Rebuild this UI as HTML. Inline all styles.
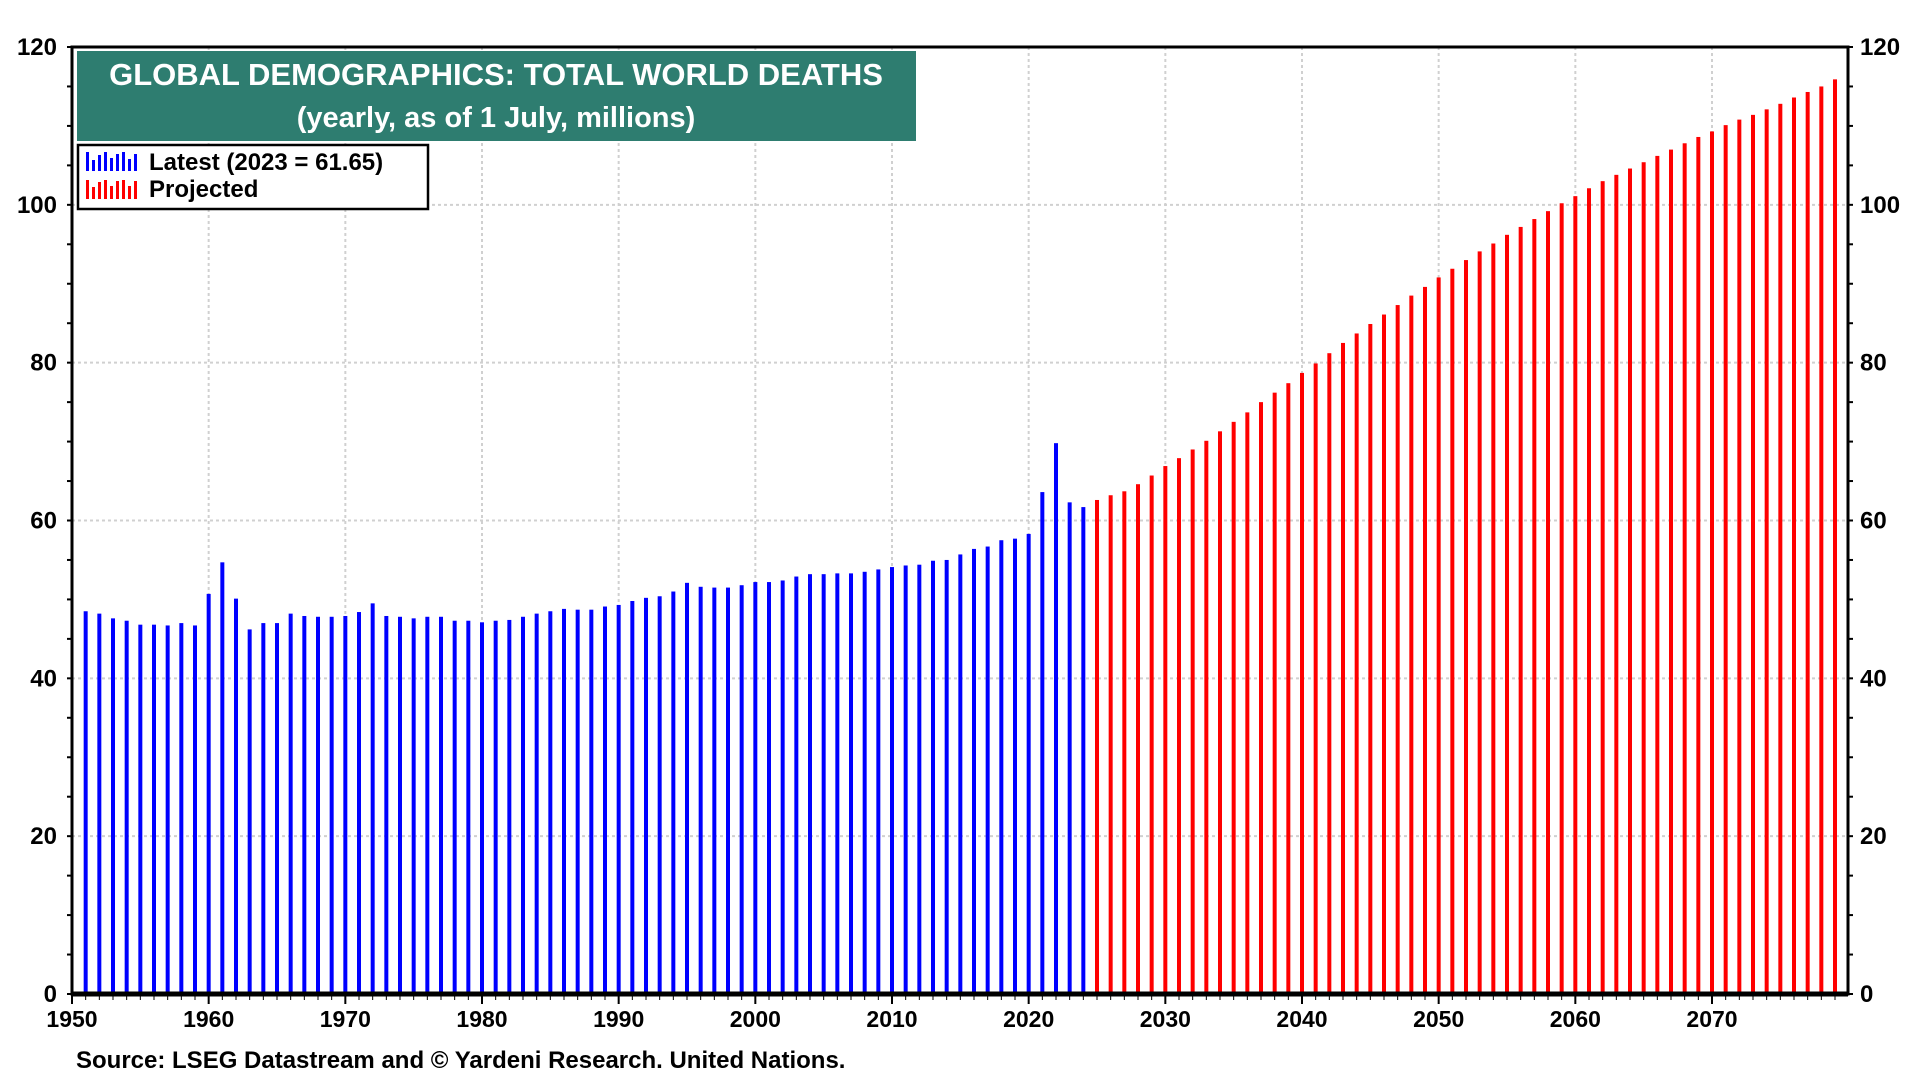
<!DOCTYPE html>
<html><head><meta charset="utf-8"><style>
html,body{margin:0;padding:0;background:#fff;}
svg{display:block;font-family:"Liberation Sans",Arial,sans-serif;font-weight:bold;}
</style></head><body>
<svg id="chart" width="1920" height="1080" viewBox="0 0 1920 1080"></svg>
<script>
const histYears=[];for(let y=1951;y<=2024;y++)histYears.push(y);
const histValues=[48.5,48.2,47.6,47.3,46.8,46.8,46.7,47.0,46.7,50.7,54.7,50.1,46.2,47.0,47.0,48.2,47.9,47.8,47.8,47.9,48.4,49.5,47.9,47.8,47.6,47.8,47.8,47.3,47.3,47.1,47.3,47.4,47.8,48.2,48.5,48.8,48.7,48.7,49.1,49.3,49.8,50.2,50.4,51.0,52.1,51.6,51.5,51.5,51.8,52.2,52.2,52.4,52.9,53.2,53.2,53.3,53.3,53.5,53.8,54.1,54.3,54.4,54.9,55.0,55.7,56.4,56.7,57.5,57.7,58.3,63.6,69.8,62.3,61.7];
const projYears=[];for(let y=2025;y<=2079;y++)projYears.push(y);
const projValues=[62.6,63.2,63.7,64.6,65.7,66.9,67.9,69.0,70.1,71.3,72.5,73.7,75.0,76.2,77.4,78.7,79.9,81.2,82.5,83.7,84.9,86.1,87.3,88.5,89.6,90.8,91.9,93.0,94.1,95.1,96.2,97.2,98.2,99.2,100.2,101.1,102.1,103.0,103.8,104.6,105.4,106.2,107.0,107.8,108.6,109.3,110.1,110.8,111.4,112.1,112.8,113.6,114.3,115.0,115.9];
const yTicks=[0,20,40,60,80,100,120];
const xTicks=[1950,1960,1970,1980,1990,2000,2010,2020,2030,2040,2050,2060,2070];

const L=72,R=1848,T=47,B=994;
const xS=y=>L+(y-1950)*(1712-72)/120;
const yS=v=>B-v*(B-T)/120;
const svg=document.getElementById('chart');
const NS='http://www.w3.org/2000/svg';
function mk(tag,attrs,parent){const e=document.createElementNS(NS,tag);for(const k in attrs)e.setAttribute(k,attrs[k]);(parent||svg).appendChild(e);return e;}

yTicks.forEach(v=>{if(v>0&&v<120){const g=mk('line',{x1:L,x2:R,y1:yS(v),y2:yS(v),stroke:'#d0d0d0','stroke-width':2,'stroke-dasharray':'3,3'});

}});
xTicks.forEach(t=>{if(t>1950){const g=mk('line',{x1:xS(t),x2:xS(t),y1:T,y2:B,stroke:'#d0d0d0','stroke-width':2,'stroke-dasharray':'3,3'});

}});

histYears.forEach((yr,i)=>{const b=mk('rect',{x:xS(yr)-2,y:yS(histValues[i]),width:4,height:B-yS(histValues[i]),fill:'#0000ff'});

});
projYears.forEach((yr,i)=>{const b=mk('rect',{x:xS(yr)-2,y:yS(projValues[i]),width:4,height:B-yS(projValues[i]),fill:'#ff0000'});

});

const fr=mk('rect',{x:L,y:T,width:R-L,height:B-T,fill:'none',stroke:'#000','stroke-width':3});


const ba=mk('line',{x1:L,x2:R,y1:B,y2:B,stroke:'#000','stroke-width':5});



for(let v=0;v<=120;v+=5){
 mk('line',{x1:L-5,x2:L,y1:yS(v),y2:yS(v),stroke:'#000','stroke-width':2});
 mk('line',{x1:R,x2:R+5,y1:yS(v),y2:yS(v),stroke:'#000','stroke-width':2});
}
yTicks.forEach(v=>{
 const a=mk('text',{x:57,y:yS(v)+8,'text-anchor':'end','font-size':24});a.textContent=v;
 
 
 const b=mk('text',{x:1860,y:yS(v)+8,'text-anchor':'start','font-size':24});b.textContent=v;
 
 
});
for(let y=1950;y<=2079;y++){const major=y%10===0;mk('line',{x1:xS(y),x2:xS(y),y1:B,y2:B+(major?10:6),stroke:'#000','stroke-width':major?2:1});}
xTicks.forEach(t=>{const a=mk('text',{x:xS(t),y:1027,'text-anchor':'middle','font-size':23});a.textContent=t;

});
</script>
<svg style="position:absolute;left:0;top:0" width="1920" height="1080">
<rect x="77" y="51" width="839" height="90" fill="#2e7d70"/>
<text x="496" y="85" text-anchor="middle" font-size="31" fill="#fff">GLOBAL DEMOGRAPHICS: TOTAL WORLD DEATHS</text>
<text x="496" y="127" text-anchor="middle" font-size="29" fill="#fff">(yearly, as of 1 July, millions)</text>
<g>
<rect x="78" y="145" width="350" height="64" fill="#fff" stroke="#000" stroke-width="2.5"/>
<g fill="#0000ff"><rect x="86" y="152" width="3" height="19"/><rect x="92" y="160" width="3" height="11"/><rect x="98" y="155" width="3" height="16"/><rect x="104" y="152" width="3" height="19"/><rect x="110" y="158" width="3" height="13"/><rect x="116" y="154" width="3" height="17"/><rect x="122" y="152" width="3" height="19"/><rect x="128" y="159" width="3" height="12"/><rect x="134" y="154" width="3" height="17"/></g>
<g fill="#ff0000"><rect x="86" y="180" width="3" height="19"/><rect x="92" y="187" width="3" height="12"/><rect x="98" y="182" width="3" height="17"/><rect x="104" y="180" width="3" height="19"/><rect x="110" y="186" width="3" height="13"/><rect x="116" y="181" width="3" height="18"/><rect x="122" y="180" width="3" height="19"/><rect x="128" y="186" width="3" height="13"/><rect x="134" y="181" width="3" height="18"/></g>
<text x="149" y="170" font-size="24">Latest (2023 = 61.65)</text>
<text x="149" y="197" font-size="24">Projected</text>
</g>
<text x="76" y="1068" font-size="24">Source: LSEG Datastream and © Yardeni Research. United Nations.</text>
</svg>
</body></html>
